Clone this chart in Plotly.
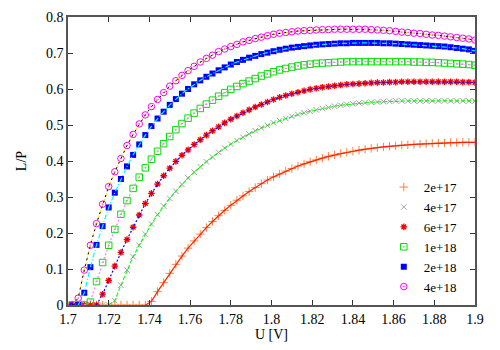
import numpy as np
import plotly.graph_objects as go

# Voltage grid (V)
U = np.round(1.702 + 0.003 * np.arange(67), 4)

L_2e17 = [0]*13 + [0.01, 0.037, 0.062, 0.088, 0.113, 0.136, 0.158, 0.178, 0.197, 0.215,
                   0.232, 0.248, 0.263, 0.277, 0.291, 0.303, 0.315, 0.326, 0.337, 0.347,
                   0.356, 0.364, 0.372, 0.379, 0.386, 0.392, 0.398, 0.403, 0.408, 0.413,
                   0.417, 0.421, 0.424, 0.427, 0.430, 0.433, 0.435, 0.437, 0.439, 0.441,
                   0.442, 0.444, 0.445, 0.446, 0.447, 0.448, 0.449, 0.450, 0.450, 0.451,
                   0.451, 0.452, 0.452, 0.452]
L_4e17 = [0]*7 + [0.012, 0.055, 0.097, 0.134, 0.166, 0.197, 0.225, 0.251, 0.275, 0.296,
                  0.316, 0.335, 0.353, 0.369, 0.384, 0.398, 0.411, 0.424, 0.436, 0.447,
                  0.457, 0.466, 0.475, 0.484, 0.492, 0.499, 0.506, 0.512, 0.518, 0.524,
                  0.529, 0.534, 0.538, 0.542, 0.546, 0.549, 0.552, 0.555, 0.557, 0.559,
                  0.561, 0.562, 0.563, 0.564, 0.565, 0.566, 0.567, 0.567, 0.567, 0.567,
                  0.567, 0.567, 0.567, 0.567, 0.567, 0.567, 0.567, 0.567, 0.567, 0.567]
L_6e17 = [0]*5 + [0.03, 0.068, 0.108, 0.146, 0.182, 0.216, 0.25, 0.282, 0.31, 0.336,
                  0.359, 0.38, 0.399, 0.416, 0.431, 0.446, 0.459, 0.472, 0.484, 0.495,
                  0.506, 0.516, 0.525, 0.534, 0.542, 0.550, 0.557, 0.564, 0.571, 0.577,
                  0.582, 0.587, 0.591, 0.595, 0.599, 0.602, 0.605, 0.607, 0.609, 0.611,
                  0.613, 0.614, 0.615, 0.616, 0.617, 0.618, 0.618, 0.619, 0.619, 0.620,
                  0.620, 0.620, 0.620, 0.620, 0.620, 0.620, 0.620, 0.620, 0.620, 0.619,
                  0.619, 0.618]
L_1e18 = [0]*3 + [0.008, 0.065, 0.118, 0.166, 0.21, 0.252, 0.29, 0.324, 0.355, 0.381,
                  0.405, 0.427, 0.448, 0.468, 0.487, 0.504, 0.519, 0.533, 0.546, 0.558,
                  0.569, 0.580, 0.590, 0.599, 0.607, 0.615, 0.622, 0.629, 0.636, 0.642,
                  0.648, 0.653, 0.657, 0.661, 0.664, 0.667, 0.669, 0.671, 0.672, 0.673,
                  0.674, 0.675, 0.676, 0.676, 0.676, 0.676, 0.676, 0.676, 0.676, 0.676,
                  0.676, 0.676, 0.676, 0.675, 0.675, 0.674, 0.674, 0.673, 0.672, 0.671,
                  0.670, 0.669, 0.668, 0.666]
L_2e18 = [0, 0, 0.034, 0.105, 0.167, 0.219, 0.271, 0.312, 0.35, 0.385, 0.417, 0.446,
          0.472, 0.497, 0.518, 0.537, 0.556, 0.572, 0.587, 0.600, 0.613, 0.624, 0.634,
          0.643, 0.652, 0.660, 0.668, 0.675, 0.681, 0.687, 0.692, 0.697, 0.701, 0.705,
          0.709, 0.712, 0.715, 0.717, 0.719, 0.721, 0.723, 0.724, 0.725, 0.726, 0.727,
          0.727, 0.728, 0.728, 0.728, 0.728, 0.728, 0.727, 0.727, 0.726, 0.725, 0.724,
          0.723, 0.722, 0.721, 0.720, 0.719, 0.718, 0.716, 0.714, 0.712, 0.710, 0.706]
L_4e18 = [0, 0.019, 0.097, 0.166, 0.226, 0.28, 0.329, 0.37, 0.407, 0.443, 0.474, 0.503,
          0.528, 0.551, 0.571, 0.59, 0.608, 0.623, 0.638, 0.651, 0.663, 0.675, 0.685,
          0.694, 0.704, 0.711, 0.718, 0.724, 0.731, 0.735, 0.740, 0.744, 0.748, 0.752,
          0.755, 0.757, 0.759, 0.761, 0.762, 0.763, 0.764, 0.765, 0.765, 0.766, 0.766,
          0.766, 0.766, 0.766, 0.766, 0.765, 0.764, 0.763, 0.762, 0.760, 0.758, 0.757,
          0.755, 0.754, 0.752, 0.750, 0.749, 0.747, 0.745, 0.743, 0.741, 0.739, 0.736]

labels = ["2e+17", "4e+17", "6e+17", "1e+18", "2e+18", "4e+18"]
series = [L_2e17, L_4e17, L_6e17, L_1e18, L_2e18, L_4e18]

x_ticks = [1.7, 1.72, 1.74, 1.76, 1.78, 1.8, 1.82, 1.84, 1.86, 1.88, 1.9]
x_ticktext = ["1.7", "1.72", "1.74", "1.76", "1.78", "1.8", "1.82", "1.84", "1.86", "1.88", "1.9"]
y_ticks = [0, 0.1, 0.2, 0.3, 0.4, 0.5, 0.6, 0.7, 0.8]
y_ticktext = ["0", "0.1", "0.2", "0.3", "0.4", "0.5", "0.6", "0.7", "0.8"]

SERIF = "Liberation Serif, Times New Roman, serif"

markers = [
    dict(symbol="cross-thin-open", color="#ff8040", size=6, line=dict(color="#ff8040", width=1)),
    dict(symbol="x-thin-open", color="#a0a0a0", size=5.5, line=dict(color="#a0a0a0", width=1)),
    dict(symbol="asterisk-open", color="#ff0000", size=5.5, line=dict(color="#ff0000", width=1.3)),
    dict(symbol="square-open-dot", color="#00e000", size=6.5, line=dict(color="#00e000", width=1)),
    dict(symbol="square", color="#0000ff", size=6, line=dict(width=0)),
    dict(symbol="circle-open-dot", color="#ff00ff", size=6.5, line=dict(color="#ff00ff", width=1)),
]
lines = [
    [dict(color="#ff2000", width=1.2, dash="solid")],
    [dict(color="#00ff00", width=1.1, dash="4px,2px")],
    [dict(color="#0000ff", width=1.2, dash="2px,2px")],
    [dict(color="#ff80ff", width=1.2, dash="2px,2px")],
    [dict(color="#00ffff", width=1.2, dash="5px,2px,1px,2px")],
    [dict(color="#ffdd00", width=1.0, dash="4px,2px"), dict(color="#000000", width=1.0, dash="2px,4px")],
]

fig = go.Figure()
for lab, vals, mk, lns in zip(labels, series, markers, lines):
    fig.add_trace(go.Scatter(x=U, y=vals, mode="markers", name=lab, marker=mk, showlegend=True))
    arr = np.array(vals)
    start = max(int(np.argmax(arr > 0)) - 1, 0)
    for ln in lns:
        fig.add_trace(go.Scatter(x=U[start:], y=arr[start:], mode="lines", line=ln,
                                 showlegend=False, hoverinfo="skip"))

axis_common = dict(showgrid=False, zeroline=False, showline=True, mirror="ticks",
                   linecolor="#555555", linewidth=1.5, ticks="inside", ticklen=5,
                   tickcolor="#333333", automargin=False,
                   tickfont=dict(family=SERIF, size=14, color="#000"))
fig.update_layout(
    width=500, height=350,
    margin=dict(l=60, r=33, t=9, b=53),
    paper_bgcolor="white", plot_bgcolor="white",
    font=dict(family=SERIF, size=14, color="#000"),
    xaxis=dict(range=[1.7, 1.9], tickvals=x_ticks, ticktext=x_ticktext,
               title=dict(text="U [V]", standoff=4, font=dict(family=SERIF, size=14)), **axis_common),
    yaxis=dict(range=[0, 0.8], tickvals=y_ticks, ticktext=y_ticktext,
               title=dict(text="L/P", standoff=16, font=dict(family=SERIF, size=14)), **axis_common),
    legend=dict(x=0.97, y=0.01, xanchor="right", yanchor="bottom", bgcolor="rgba(0,0,0,0)",
                font=dict(family=SERIF, size=13), tracegroupgap=0, itemwidth=30),
)
fig.write_html("out.html")
